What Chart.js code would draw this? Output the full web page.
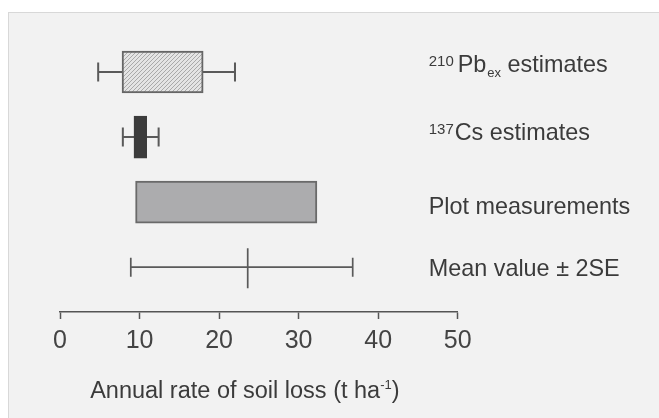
<!DOCTYPE html>
<html><head><meta charset="utf-8">
<script src="https://cdn.jsdelivr.net/npm/chart.js@4"></script>
<style>
html,body{margin:0;padding:0;background:#fff;width:659px;height:418px;overflow:hidden}
#panel{position:absolute;left:8px;top:12px;width:700px;height:500px;background:#f2f2f2;border-left:1px solid #d8d8d8;border-top:1px solid #d8d8d8}
#wrap{position:absolute;left:0;top:0;width:659px;height:418px}
</style></head><body>
<div id="panel"></div>
<div id="wrap"><canvas id="c" width="659" height="418"></canvas></div>
<script>
// ---- data ----
const categories = ['210Pbex estimates', '137Cs estimates', 'Plot measurements', 'Mean value ± 2SE'];
const labelSup  = ['210', '137', '', ''];
const labelMain = ['Pb', 'Cs', 'Plot measurements', 'Mean value ± 2SE'];
const labelSub  = ['ex', '', '', ''];
const labelTail = [' estimates', ' estimates', '', ''];
const boxLow      = [7.8, 9.3, 9.5, null];
const boxHigh     = [18.0, 10.9, 32.3, null];
const whiskerLow  = [4.8, 7.9, null, 8.9];
const whiskerHigh = [22.0, 12.4, null, 36.8];
const meanValue   = [null, null, null, 23.6];
const xTicks = [0, 10, 20, 30, 40, 50];
const xTitleMain = 'Annual rate of soil loss (t ha';
const xTitleSup = '-1';
const xTitleEnd = ')';

// ---- styles ----
const FONT = '"Liberation Sans", Arial, sans-serif';
const TEXT = '#3b3b3b';
const labelNudge = [0, 3, 12, 9];
const supGap = [4, 1, 0, 0];

const canvas = document.getElementById('c');
const ctx0 = canvas.getContext('2d');
function hatch() {
  const p = document.createElement('canvas');
  p.width = 4; p.height = 4;
  const g = p.getContext('2d');
  g.fillStyle = '#e4e4e4'; g.fillRect(0, 0, 4, 4);
  g.strokeStyle = '#a9a9a9'; g.lineWidth = 1;
  g.beginPath();
  g.moveTo(0, 4); g.lineTo(4, 0);
  g.moveTo(-2, 2); g.lineTo(2, -2);
  g.moveTo(2, 6); g.lineTo(6, 2);
  g.stroke();
  return ctx0.createPattern(p, 'repeat');
}
const fills   = [hatch(), '#3c3c3c', '#acacae'];
const borders = ['#666666', '#3c3c3c', '#6a6a6a'];

const barData = [], barFill = [], barBorder = [];
categories.forEach((c, i) => {
  if (boxLow[i] != null) {
    barData.push({ y: i, x: [boxLow[i], boxHigh[i]] });
    barFill.push(fills[i]); barBorder.push(borders[i]);
  }
});

const whiskers = {
  id: 'whiskers',
  beforeDatasetsDraw(chart) {
    const { ctx } = chart, xs = chart.scales.x, ys = chart.scales.y;
    ctx.save();
    ctx.strokeStyle = '#5a5a5a';
    categories.forEach((c, i) => {
      if (whiskerLow[i] == null) return;
      const y = ys.getPixelForValue(i);
      const x1 = xs.getPixelForValue(whiskerLow[i]);
      const x2 = xs.getPixelForValue(whiskerHigh[i]);
      const cap = 9.5;
      ctx.lineWidth = meanValue[i] != null ? 1.7 : 2;
      ctx.beginPath();
      ctx.moveTo(x1, y); ctx.lineTo(x2, y);
      ctx.moveTo(x1, y - cap); ctx.lineTo(x1, y + cap);
      ctx.moveTo(x2, y - cap); ctx.lineTo(x2, y + cap);
      if (meanValue[i] != null) {
        const xm = xs.getPixelForValue(meanValue[i]);
        ctx.moveTo(xm, y - 19); ctx.lineTo(xm, y + 21);
      }
      ctx.stroke();
    });
    ctx.restore();
  }
};

const rowLabels = {
  id: 'rowLabels',
  afterDraw(chart) {
    const { ctx } = chart, ys = chart.scales.y;
    const x0 = chart.chartArea.right - 29;
    const mainFont = '23.4px ' + FONT;
    ctx.save();
    ctx.fillStyle = TEXT;
    ctx.textBaseline = 'alphabetic';
    ctx.textAlign = 'left';
    categories.forEach((c, i) => {
      const base = ys.getPixelForValue(i) + labelNudge[i];
      let x = x0;
      if (labelSup[i]) {
        ctx.font = '15px ' + FONT;
        ctx.fillText(labelSup[i], x, base - 6);
        x += ctx.measureText(labelSup[i]).width + supGap[i];
      }
      ctx.font = mainFont;
      ctx.fillText(labelMain[i], x, base);
      x += ctx.measureText(labelMain[i]).width;
      if (labelSub[i]) {
        ctx.font = '13px ' + FONT;
        ctx.fillText(labelSub[i], x + 1, base + 5);
        x += ctx.measureText(labelSub[i]).width + 1;
      }
      if (labelTail[i]) {
        ctx.font = mainFont;
        ctx.fillText(labelTail[i], x, base);
      }
    });
    // x-axis title with superscript
    const tf = '23.5px ' + FONT, sf = '13px ' + FONT;
    ctx.font = tf; const w1 = ctx.measureText(xTitleMain).width;
    const w3 = ctx.measureText(xTitleEnd).width;
    ctx.font = sf; const w2 = ctx.measureText(xTitleSup).width;
    const tw = w1 + w2 + w3;
    let tx = (chart.chartArea.left + chart.chartArea.right) / 2 - 14 - tw / 2;
    const ty = chart.chartArea.bottom + 86;
    ctx.font = tf; ctx.fillText(xTitleMain, tx, ty); tx += w1;
    ctx.font = sf; ctx.fillText(xTitleSup, tx, ty - 9); tx += w2;
    ctx.font = tf; ctx.fillText(xTitleEnd, tx, ty);
    ctx.restore();
  }
};

new Chart(canvas, {
  type: 'bar',
  data: {
    datasets: [{
      data: barData,
      backgroundColor: barFill,
      borderColor: barBorder,
      borderWidth: 2,
      borderSkipped: false,
      barThickness: 42
    }]
  },
  options: {
    indexAxis: 'y',
    responsive: false,
    animation: false,
    events: [],
    layout: { padding: { left: 60, right: 201.3, top: 39.5, bottom: 0 } },
    plugins: { legend: { display: false }, tooltip: { enabled: false } },
    scales: {
      y: { type: 'linear', reverse: true, min: -0.5, max: 3.69, offset: false, display: false },
      x: {
        type: 'linear', min: 0, max: 50,
        afterBuildTicks(s) { s.ticks = xTicks.map(v => ({ value: v })); },
        afterFit(s) { s.height = 106; },
        ticks: { font: { family: FONT, size: 25 }, color: '#444', padding: 7, maxRotation: 0 },
        grid: { drawOnChartArea: false, drawTicks: true, tickLength: 7, tickColor: '#555', tickWidth: 1.5 },
        border: { display: true, color: '#555', width: 1.5 },
        title: { display: false }
      }
    }
  },
  plugins: [whiskers, rowLabels]
});
</script>
</body></html>
